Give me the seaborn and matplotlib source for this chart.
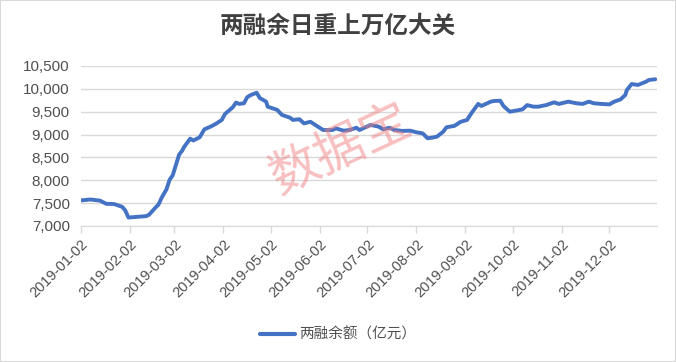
import pandas as pd
import matplotlib
matplotlib.use("Agg")
import matplotlib.pyplot as plt
import matplotlib.ticker as mticker
from matplotlib.patches import Rectangle
import seaborn as sns

sns.set_style("white")
plt.rcParams["font.family"] = ["Liberation Sans", "Noto Sans CJK SC", "DejaVu Sans"]

# Data
title = "两融余日重上万亿大关"
series_name = "两融余额（亿元）"
dates = [
    "2019-01-02", "2019-01-08", "2019-01-14", "2019-01-18", "2019-01-23", "2019-01-28",
    "2019-01-30", "2019-02-01", "2019-02-12", "2019-02-14", "2019-02-18", "2019-02-20",
    "2019-02-22", "2019-02-25", "2019-02-27", "2019-03-01", "2019-03-05", "2019-03-07",
    "2019-03-08", "2019-03-12", "2019-03-14", "2019-03-18", "2019-03-21", "2019-03-25",
    "2019-03-28", "2019-04-01", "2019-04-03", "2019-04-08", "2019-04-10", "2019-04-12",
    "2019-04-15", "2019-04-17", "2019-04-19", "2019-04-23", "2019-04-25", "2019-04-29",
    "2019-04-30", "2019-05-06", "2019-05-09", "2019-05-14", "2019-05-16", "2019-05-20",
    "2019-05-23", "2019-05-27", "2019-05-31", "2019-06-04", "2019-06-10", "2019-06-12",
    "2019-06-17", "2019-06-21", "2019-06-25", "2019-06-27", "2019-07-04", "2019-07-09",
    "2019-07-12", "2019-07-16", "2019-07-19", "2019-07-24", "2019-07-29", "2019-08-02",
    "2019-08-06", "2019-08-09", "2019-08-12", "2019-08-15", "2019-08-19", "2019-08-21",
    "2019-08-26", "2019-08-30", "2019-09-03", "2019-09-06", "2019-09-10", "2019-09-12",
    "2019-09-18", "2019-09-20", "2019-09-24", "2019-09-26", "2019-09-30", "2019-10-08",
    "2019-10-11", "2019-10-15", "2019-10-18", "2019-10-23", "2019-10-28", "2019-10-31",
    "2019-11-06", "2019-11-11", "2019-11-15", "2019-11-19", "2019-11-22", "2019-11-27",
    "2019-12-02", "2019-12-05", "2019-12-09", "2019-12-12", "2019-12-13", "2019-12-16",
    "2019-12-20", "2019-12-25", "2019-12-27", "2019-12-31",
]
balance = [
    7560, 7580, 7555, 7485, 7480, 7420,
    7340, 7185, 7215, 7245, 7400, 7470,
    7620, 7800, 8010, 8110, 8560, 8650,
    8720, 8910, 8870, 8940, 9115, 9175,
    9230, 9320, 9450, 9600, 9700, 9670,
    9685, 9815, 9860, 9915, 9800, 9720,
    9610, 9540, 9430, 9370, 9320, 9335,
    9245, 9280, 9190, 9100, 9100, 9136,
    9085, 9100, 9150, 9100, 9210, 9175,
    9115, 9150, 9100, 9080, 9085, 9050,
    9025, 8920, 8932, 8955, 9065, 9160,
    9190, 9280, 9320, 9480, 9670, 9625,
    9720, 9735, 9740, 9625, 9500, 9550,
    9645, 9610, 9610, 9645, 9705, 9670,
    9720, 9685, 9670, 9720, 9685, 9670,
    9660, 9720, 9770, 9865, 9975, 10105,
    10085, 10155, 10195, 10210,
]
tick_dates = ["2019-01-02", "2019-02-02", "2019-03-02", "2019-04-02", "2019-05-02", "2019-06-02",
              "2019-07-02", "2019-08-02", "2019-09-02", "2019-10-02", "2019-11-02", "2019-12-02"]
y_ticks = [7000, 7500, 8000, 8500, 9000, 9500, 10000, 10500]

df = pd.DataFrame({"date": pd.to_datetime(dates), "value": balance})

fig = plt.figure(figsize=(6.76, 3.62), dpi=100)
ax = fig.add_axes([0.1198, 0.3757, 0.852, 0.442])

sns.lineplot(data=df, x="date", y="value", ax=ax, color="#4472C4", lw=2.8, legend=False)

ax.set_xlim(pd.Timestamp("2019-01-02"), pd.Timestamp("2020-01-01"))
ax.set_ylim(y_ticks[0], y_ticks[-1])
ax.set_yticks(y_ticks)
ax.yaxis.set_major_formatter(mticker.FuncFormatter(lambda v, p: f"{v:,.0f}"))
ax.set_xticks(pd.to_datetime(tick_dates))
ax.set_xticklabels(tick_dates, rotation=45, ha="right", rotation_mode="anchor")
ax.set_xlabel(""); ax.set_ylabel("")

ax.grid(axis="y", color="#d9d9d9", lw=1)
for s in ["left", "top", "right"]:
    ax.spines[s].set_visible(False)
ax.spines["bottom"].set_color("#d9d9d9")
ax.tick_params(axis="x", bottom=True, length=5, width=1, color="#d9d9d9",
               labelsize=10.5, labelcolor="#505050", pad=3)
ax.tick_params(axis="y", left=False, length=0, labelsize=11, labelcolor="#505050", pad=8)

fig.text(0.5, 1 - 26 / 362, title, fontsize=17, weight="bold", color="#404040",
         ha="center", va="center", family=["Noto Sans CJK SC", "DejaVu Sans"])

# watermark
fig.text(0.503, 1 - 150 / 362, "数据宝", rotation=25, fontsize=36, color="#f08080",
         alpha=0.5, ha="center", va="center", family=["Noto Sans CJK SC", "DejaVu Sans"])

handle = plt.Line2D([], [], color="#4472C4", lw=3)
fig.legend([handle], [series_name], loc="center", bbox_to_anchor=(0.5, 0.075),
           frameon=False, fontsize=10.5, handlelength=2.4, handletextpad=0.3,
           labelcolor="#505050")

fig.patches.append(Rectangle((0, 0), 1, 1, transform=fig.transFigure, fill=False,
                             edgecolor="#d9d9d9", lw=1.5))

fig.savefig("out.png", dpi=100)
